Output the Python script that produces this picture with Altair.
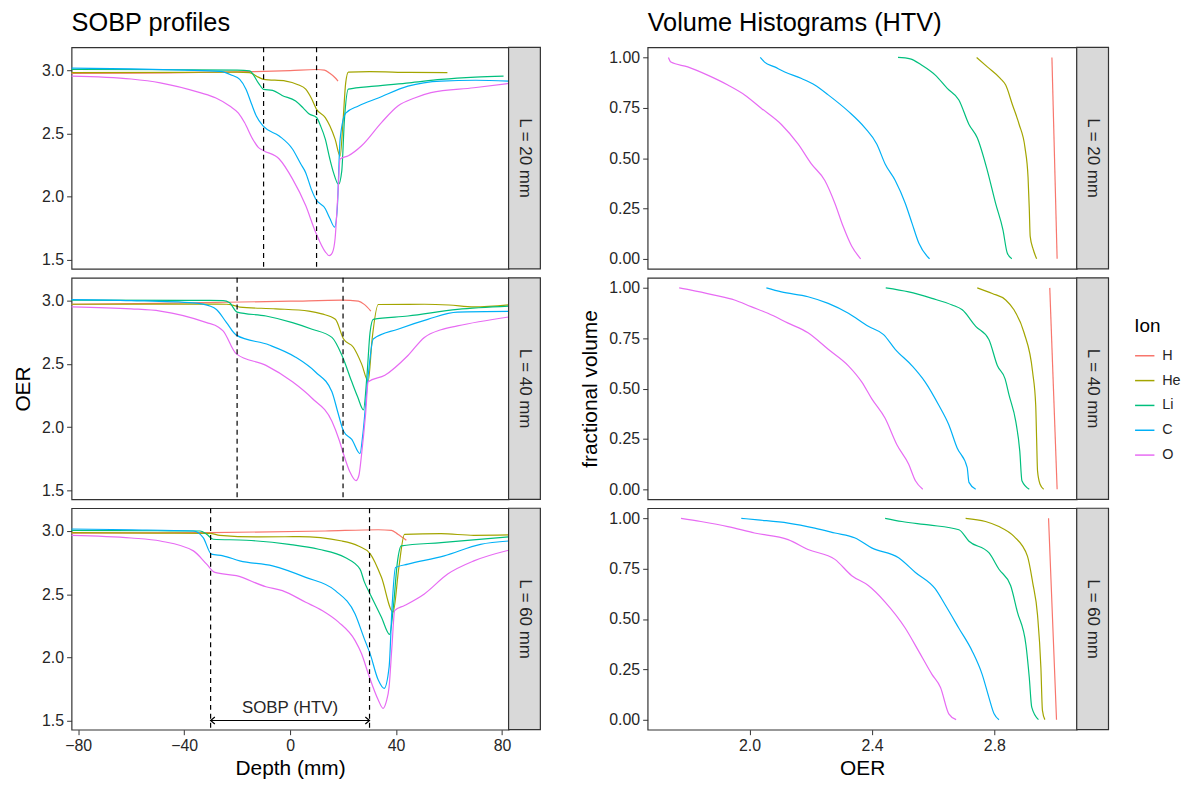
import altair as alt
import pandas as pd

FONT = "Liberation Sans"
IONS = ["H", "He", "Li", "C", "O"]
ION_COLORS = ["#F8766D", "#A3A500", "#00BF7D", "#00B0F6", "#E76BF3"]
L_LABELS = ["L = 20 mm", "L = 40 mm", "L = 60 mm"]
SOBP_HALF = [10, 20, 30]
ANNOT_TEXT = "SOBP (HTV)"
ANNOT_Y = 1.60
ARROW_Y = 1.503

DEPTH_TICKS = [-80, -40, 0, 40, 80]
OER_TICKS_L = [1.5, 2.0, 2.5, 3.0]
OER_TICKS_R = [2.0, 2.4, 2.8]
FRAC_TICKS = [0.0, 0.25, 0.5, 0.75, 1.0]

# ---- SOBP profiles: (depth mm, OER) ----
P20_H = [(-82.5, 2.975), (-60, 2.977), (-40, 2.98), (-20, 2.987), (-10, 2.99), (0, 2.996), (10, 3.005), (13, 3.0), (15, 2.975), (17, 2.94), (18.1, 2.914)]
P20_He = [(-82.5, 2.98), (-40, 2.982), (-20, 2.985), (-15.3, 2.98), (-12, 2.945), (-10, 2.927), (-1.6, 2.914), (3, 2.885), (5.9, 2.85), (8, 2.78), (10, 2.69), (13.3, 2.625), (15, 2.56), (17, 2.455), (18.9, 2.32), (20, 2.6), (21, 2.9), (22, 2.985), (30, 2.988), (45, 2.982), (59.4, 2.98)]
P20_Li = [(-82.5, 3.005), (-40, 3.003), (-20, 3.0), (-15.3, 2.995), (-12, 2.9), (-10, 2.848), (-6.6, 2.84), (-3, 2.8), (2.1, 2.756), (5, 2.7), (7.1, 2.655), (10, 2.626), (11.5, 2.56), (13.3, 2.455), (15, 2.3), (16.4, 2.19), (18.3, 2.097), (19.5, 2.2), (20.5, 2.6), (22, 2.85), (32, 2.874), (45, 2.9), (57, 2.927), (70, 2.945), (80.6, 2.953)]
P20_C = [(-82.5, 3.016), (-60, 3.01), (-40, 3.0), (-26.5, 2.99), (-22, 2.96), (-19, 2.927), (-16.6, 2.848), (-14.5, 2.73), (-12.8, 2.64), (-10, 2.555), (-4.1, 2.48), (0.9, 2.377), (4, 2.26), (5.9, 2.19), (8, 2.06), (9.6, 1.984), (13.3, 1.905), (15, 1.83), (16.8, 1.76), (17.8, 1.9), (18.9, 2.455), (21, 2.66), (25.8, 2.717), (33.3, 2.78), (44.5, 2.874), (57, 2.914), (70, 2.92), (82.5, 2.914)]
P20_O = [(-82.5, 2.953), (-60, 2.93), (-49, 2.9), (-34, 2.822), (-28, 2.78), (-22.8, 2.717), (-19.5, 2.66), (-17.2, 2.586), (-14.1, 2.455), (-12, 2.39), (-10, 2.364), (-4.1, 2.298), (0.9, 2.141), (5.9, 1.93), (9.6, 1.722), (13.3, 1.565), (14.8, 1.534), (16, 1.56), (17, 1.67), (18, 2.0), (18.9, 2.298), (22, 2.324), (27, 2.403), (34.5, 2.586), (40.7, 2.717), (47, 2.78), (53.2, 2.822), (69.4, 2.861), (82.5, 2.895)]

P40_H = [(-82.5, 2.971), (-50, 2.978), (-24, 2.987), (0, 2.995), (19.6, 3.003), (25.8, 2.995), (28, 2.97), (30.5, 2.917)]
P40_He = [(-82.5, 2.971), (-40, 2.972), (-24, 2.971), (-21, 2.96), (-19, 2.948), (-5.4, 2.935), (7.1, 2.917), (12, 2.895), (17.1, 2.852), (20.2, 2.696), (23.9, 2.631), (27, 2.5), (29.5, 2.363), (31, 2.7), (33.3, 2.969), (50.7, 2.971), (60, 2.965), (69.4, 2.95), (82.5, 2.966)]
P40_Li = [(-82.5, 3.003), (-40, 3.002), (-25.3, 3.0), (-22.8, 2.982), (-20, 2.909), (-9.1, 2.878), (0.9, 2.826), (8.3, 2.774), (15.8, 2.709), (19.6, 2.566), (23.3, 2.358), (25.5, 2.24), (27.7, 2.137), (29, 2.4), (30.2, 2.75), (31.4, 2.852), (44.5, 2.878), (63.2, 2.93), (82.5, 2.956)]
P40_C = [(-82.5, 3.008), (-60, 3.0), (-36.5, 2.982), (-30, 2.955), (-27.8, 2.93), (-24, 2.826), (-20.3, 2.727), (-7.9, 2.649), (2.1, 2.553), (9.6, 2.436), (15.8, 2.28), (18, 2.12), (20.2, 1.968), (23.3, 1.903), (26.4, 1.791), (27.5, 1.95), (29.5, 2.41), (31.4, 2.696), (40.7, 2.774), (52, 2.852), (63.2, 2.909), (82.5, 2.914)]
P40_O = [(-82.5, 2.951), (-60, 2.935), (-49, 2.917), (-31.5, 2.826), (-27, 2.79), (-25.3, 2.761), (-20.3, 2.579), (-9.1, 2.488), (0.9, 2.358), (8.3, 2.228), (15.8, 2.046), (18.5, 1.9), (20.2, 1.786), (22.5, 1.65), (24.9, 1.578), (26, 1.62), (27, 1.786), (28.5, 2.1), (29.5, 2.358), (35.8, 2.41), (44.5, 2.566), (50.7, 2.709), (57, 2.77), (63.2, 2.8), (82.5, 2.87)]

P60_H = [(-82.5, 2.984), (-30, 2.987), (13.3, 3.0), (33.3, 3.01), (38.3, 3.005), (40.7, 2.974), (43.9, 2.927)]
P60_He = [(-82.5, 2.987), (-50, 2.984), (-30.3, 2.982), (-26.5, 2.966), (-11.6, 2.953), (3.4, 2.955), (19.6, 2.921), (25.8, 2.882), (30.2, 2.822), (34.5, 2.634), (38.9, 2.359), (41, 2.7), (43.2, 2.974), (57, 2.979), (69.4, 2.966), (82.5, 2.969)]
P60_Li = [(-82.5, 3.005), (-50, 3.002), (-34, 3.0), (-31.5, 2.974), (-29, 2.935), (-16.6, 2.927), (-0.4, 2.895), (10.8, 2.856), (20.8, 2.79), (26.4, 2.699), (28, 2.6), (30.2, 2.503), (34.5, 2.319), (37.6, 2.183), (39, 2.4), (40.5, 2.75), (42, 2.882), (57, 2.908), (82.5, 2.953)]
P60_C = [(-82.5, 3.016), (-60, 3.01), (-36.5, 3.0), (-32.8, 2.948), (-29.7, 2.817), (-25.3, 2.804), (-19, 2.764), (-6.6, 2.725), (5.9, 2.634), (17.1, 2.529), (24.5, 2.346), (28, 2.15), (30.2, 2.031), (33.3, 1.822), (35.5, 1.757), (37.4, 1.927), (38.5, 2.4), (39.8, 2.712), (44.5, 2.738), (58.2, 2.804), (71.9, 2.895), (82.5, 2.921)]
P60_O = [(-82.5, 2.966), (-60, 2.945), (-49, 2.921), (-36.5, 2.843), (-31.5, 2.738), (-28.4, 2.673), (-20.3, 2.647), (-9.1, 2.56), (-2.9, 2.529), (5.9, 2.437), (12.1, 2.372), (18.3, 2.28), (24.5, 2.136), (27, 2.03), (29.5, 1.874), (33.3, 1.665), (35.1, 1.599), (36.3, 1.65), (37.4, 1.77), (38.5, 2.1), (39.5, 2.372), (43.2, 2.411), (50.7, 2.503), (59.5, 2.66), (69.4, 2.764), (82.5, 2.848)]

# ---- Volume histograms: (OER, fractional volume) ----
V20_H = [(2.988, 1.0), (3.005, 0.0)]
V20_He = [(2.742, 1.0), (2.777, 0.953), (2.82, 0.895), (2.837, 0.863), (2.859, 0.765), (2.881, 0.667), (2.9, 0.552), (2.91, 0.405), (2.914, 0.25), (2.917, 0.111), (2.927, 0.046), (2.938, 0.0)]
V20_Li = [(2.485, 1.0), (2.525, 0.993), (2.563, 0.961), (2.607, 0.912), (2.646, 0.846), (2.684, 0.789), (2.717, 0.667), (2.744, 0.601), (2.777, 0.438), (2.804, 0.275), (2.828, 0.144), (2.842, 0.029), (2.857, 0.0)]
V20_C = [(2.035, 1.0), (2.049, 0.977), (2.082, 0.953), (2.115, 0.928), (2.17, 0.895), (2.213, 0.863), (2.257, 0.814), (2.323, 0.732), (2.377, 0.65), (2.416, 0.569), (2.443, 0.471), (2.476, 0.389), (2.509, 0.275), (2.531, 0.176), (2.553, 0.078), (2.588, 0.0)]
V20_O = [(1.735, 1.0), (1.743, 0.977), (1.798, 0.953), (1.863, 0.912), (1.929, 0.863), (1.984, 0.814), (2.038, 0.748), (2.104, 0.667), (2.159, 0.569), (2.202, 0.471), (2.246, 0.389), (2.279, 0.275), (2.306, 0.16), (2.334, 0.062), (2.363, 0.0)]

V40_H = [(2.981, 1.0), (3.005, 0.0)]
V40_He = [(2.744, 1.0), (2.793, 0.972), (2.837, 0.94), (2.864, 0.891), (2.897, 0.777), (2.925, 0.581), (2.935, 0.418), (2.938, 0.25), (2.941, 0.091), (2.949, 0.026), (2.961, 0.0)]
V40_Li = [(2.445, 1.0), (2.52, 0.98), (2.596, 0.948), (2.662, 0.915), (2.695, 0.891), (2.739, 0.809), (2.782, 0.744), (2.81, 0.613), (2.835, 0.548), (2.848, 0.467), (2.87, 0.336), (2.883, 0.189), (2.89, 0.042), (2.914, 0.0)]
V40_C = [(2.055, 1.0), (2.104, 0.98), (2.191, 0.956), (2.257, 0.923), (2.323, 0.874), (2.388, 0.809), (2.438, 0.768), (2.476, 0.695), (2.531, 0.613), (2.574, 0.532), (2.618, 0.418), (2.651, 0.32), (2.678, 0.206), (2.711, 0.108), (2.717, 0.034), (2.739, 0.0)]
V40_O = [(1.77, 1.0), (1.809, 0.989), (1.885, 0.964), (1.951, 0.94), (2.005, 0.907), (2.06, 0.874), (2.126, 0.825), (2.191, 0.777), (2.257, 0.695), (2.323, 0.613), (2.367, 0.532), (2.399, 0.45), (2.443, 0.352), (2.481, 0.222), (2.52, 0.124), (2.542, 0.042), (2.566, 0.0)]

V60_H = [(2.977, 1.0), (2.99, 0.5), (3.003, 0.0)]
V60_He = [(2.706, 1.0), (2.771, 0.984), (2.815, 0.959), (2.864, 0.91), (2.908, 0.812), (2.925, 0.682), (2.941, 0.519), (2.952, 0.258), (2.957, 0.046), (2.965, 0.0)]
V60_Li = [(2.443, 1.0), (2.498, 0.984), (2.585, 0.967), (2.684, 0.943), (2.717, 0.886), (2.782, 0.829), (2.815, 0.747), (2.853, 0.666), (2.875, 0.535), (2.903, 0.372), (2.914, 0.209), (2.922, 0.062), (2.944, 0.0)]
V60_C = [(1.973, 1.0), (2.027, 0.992), (2.126, 0.976), (2.213, 0.951), (2.279, 0.927), (2.345, 0.902), (2.399, 0.853), (2.487, 0.804), (2.542, 0.731), (2.607, 0.649), (2.64, 0.568), (2.684, 0.454), (2.728, 0.339), (2.76, 0.225), (2.782, 0.111), (2.799, 0.029), (2.815, 0.0)]
V60_O = [(1.776, 1.0), (1.841, 0.984), (1.929, 0.959), (2.016, 0.927), (2.126, 0.894), (2.191, 0.845), (2.279, 0.796), (2.334, 0.715), (2.388, 0.666), (2.443, 0.584), (2.509, 0.454), (2.553, 0.339), (2.596, 0.225), (2.624, 0.16), (2.651, 0.029), (2.675, 0.0)]

PROFILES = [
    [P20_H, P20_He, P20_Li, P20_C, P20_O],
    [P40_H, P40_He, P40_Li, P40_C, P40_O],
    [P60_H, P60_He, P60_Li, P60_C, P60_O],
]
VOLUMES = [
    [V20_H, V20_He, V20_Li, V20_C, V20_O],
    [V40_H, V40_He, V40_Li, V40_C, V40_O],
    [V60_H, V60_He, V60_Li, V60_C, V60_O],
]

# ---- layout ----
LW, RW, PH, STRIP = 440, 432, 223, 32
TXT = "#262626"
BORDER = "#333333"
TICK_FS, TITLE_FS, HEAD_FS, STRIP_FS = 16, 21, 25.5, 17

color = alt.Color(
    "ion:N",
    sort=IONS,
    scale=alt.Scale(domain=IONS, range=ION_COLORS),
    legend=alt.Legend(
        title="Ion", orient="none", legendX=1070, legendY=272,
        symbolType="stroke", symbolSize=380, symbolStrokeWidth=1.5,
        labelFontSize=14.5, titleFontSize=19, titleFontWeight="normal",
        labelOffset=7, rowPadding=8, titlePadding=9,
        labelColor=TXT, titleColor="black", labelFont=FONT, titleFont=FONT,
    ),
)


def to_df(rows, xname, yname):
    recs = []
    for ion, pts in zip(IONS, rows):
        for a, b in pts:
            recs.append({"ion": ion, xname: a, yname: b})
    return pd.DataFrame(recs)


def strip_layers(label, width):
    sdf = pd.DataFrame({"label": [label]})
    rect = alt.Chart(sdf).mark_rect(fill="#D9D9D9", stroke=BORDER, strokeWidth=1.2).encode(
        x=alt.value(width), x2=alt.value(width + STRIP), y=alt.value(0), y2=alt.value(PH)
    )
    txt = alt.Chart(sdf).mark_text(angle=90, fontSize=STRIP_FS, font=FONT, color=TXT).encode(
        x=alt.value(width + STRIP / 2), y=alt.value(PH / 2), text="label:N"
    )
    return [rect, txt]


def head_title(text):
    return alt.TitleParams(
        text, anchor="start", frame="group", fontSize=HEAD_FS, font=FONT,
        fontWeight="normal", color="black", offset=10,
    )


def left_row(i):
    bottom = i == 2
    xaxis = alt.Axis(values=DEPTH_TICKS, title="Depth (mm)") if bottom else None
    yaxis = alt.Axis(values=OER_TICKS_L, format=".1f", title="OER" if i == 1 else None)
    xs = alt.Scale(domain=[-82.5, 82.5], nice=False, zero=False)
    ys = alt.Scale(domain=[1.43, 3.18], nice=False, zero=False)

    def X(f):
        return alt.X(f, type="quantitative", scale=xs, axis=xaxis)

    def Y(f):
        return alt.Y(f, type="quantitative", scale=ys, axis=yaxis)

    df = to_df(PROFILES[i], "depth", "oer")
    lines = alt.Chart(df).mark_line(strokeWidth=1.2, interpolate="monotone").encode(
        x=X("depth"), y=Y("oer"), color=color
    )
    rdf = pd.DataFrame({"depth": [-SOBP_HALF[i], SOBP_HALF[i]]})
    rules = alt.Chart(rdf).mark_rule(color="black", strokeDash=[5, 4], strokeWidth=1.2).encode(x=X("depth"))
    layers = [lines, rules]
    if bottom:
        adf = pd.DataFrame({"x1": [-SOBP_HALF[i]], "x2": [SOBP_HALF[i]], "y": [ARROW_Y]})
        arrow = alt.Chart(adf).mark_rule(color="black", strokeWidth=1.2).encode(
            x=X("x1"), x2="x2:Q", y=Y("y")
        )
        hl = alt.Chart(pd.DataFrame({"x": [-SOBP_HALF[i]], "y": [ARROW_Y]})).mark_point(
            shape="M1.2,-1L0,0L1.2,1", size=50, filled=False, stroke="black", strokeWidth=1.2, opacity=1
        ).encode(x=X("x"), y=Y("y"))
        hr = alt.Chart(pd.DataFrame({"x": [SOBP_HALF[i]], "y": [ARROW_Y]})).mark_point(
            shape="M-1.2,-1L0,0L-1.2,1", size=50, filled=False, stroke="black", strokeWidth=1.2, opacity=1
        ).encode(x=X("x"), y=Y("y"))
        tdf = pd.DataFrame({"x": [0], "y": [ANNOT_Y], "label": [ANNOT_TEXT]})
        txt = alt.Chart(tdf).mark_text(fontSize=STRIP_FS, font=FONT, color=TXT).encode(
            x=X("x"), y=Y("y"), text="label:N"
        )
        layers += [arrow, hl, hr, txt]
    layers += strip_layers(L_LABELS[i], LW)
    ch = alt.layer(*layers).properties(width=LW, height=PH)
    if i == 0:
        ch = ch.properties(title=head_title("SOBP profiles"))
    return ch


def right_row(i):
    bottom = i == 2
    xaxis = alt.Axis(values=OER_TICKS_R, format=".1f", title="OER") if bottom else None
    yaxis = alt.Axis(values=FRAC_TICKS, format=".2f", title="fractional volume" if i == 1 else None)
    xs = alt.Scale(domain=[1.667, 3.069], nice=False, zero=False)
    ys = alt.Scale(domain=[-0.05, 1.05], nice=False, zero=False)
    df = to_df(VOLUMES[i], "oer", "frac")
    lines = alt.Chart(df).mark_line(strokeWidth=1.2, interpolate="monotone").encode(
        x=alt.X("oer:Q", scale=xs, axis=xaxis),
        y=alt.Y("frac:Q", scale=ys, axis=yaxis),
        color=color,
    )
    layers = [lines] + strip_layers(L_LABELS[i], RW)
    ch = alt.layer(*layers).properties(width=RW, height=PH)
    if i == 0:
        ch = ch.properties(title=head_title("Volume Histograms (HTV)"))
    return ch


left = alt.vconcat(*[left_row(i) for i in range(3)], spacing=5)
right = alt.vconcat(*[right_row(i) for i in range(3)], spacing=5)

chart = (
    alt.hconcat(left, right, spacing=37)
    .properties(padding={"left": 4, "top": 0, "right": 0, "bottom": 0})
    .configure_view(stroke=BORDER, strokeWidth=1.2)
    .configure_axis(
        grid=False, domain=False, tickColor=BORDER, tickSize=5, tickWidth=1,
        labelFont=FONT, titleFont=FONT, labelFontSize=TICK_FS, titleFontSize=TITLE_FS,
        labelColor=TXT, titleColor="black", titleFontWeight="normal", labelPadding=3,
    )
    .configure_axisY(titlePadding=8)
    .configure_axisX(titlePadding=4)
)

chart.save("out.html", embed_options={"renderer": "svg", "actions": False})
